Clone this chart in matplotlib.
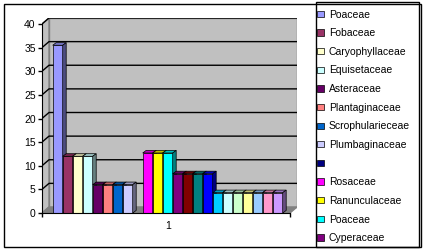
import matplotlib.pyplot as plt
from matplotlib.patches import Polygon, Rectangle, Patch
from matplotlib.colors import to_rgb

plt.rcParams['font.family'] = ['Liberation Sans', 'DejaVu Sans']

# series, all in the single category "1"
families = ['Poaceae', 'Fobaceae', 'Caryophyllaceae', 'Equisetaceae', 'Asteraceae',
            'Plantaginaceae', 'Scrophularieceae', 'Plumbaginaceae', '',
            'Rosaceae', 'Ranunculaceae', 'Poaceae', 'Cyperaceae',
            '', '', '', '', '', '', '', '', '', '']
counts = [35.5, 12, 12, 12, 6, 6, 6, 6, 0,
          12.7, 12.7, 12.7, 8.3, 8.3, 8.3, 8.3,
          4.3, 4.3, 4.3, 4.3, 4.3, 4.3, 4.3]
colors = ['#9999FF', '#993366', '#FFFFCC', '#CCFFFF', '#660066', '#FF8080', '#0066CC',
          '#CCCCFF', '#000080', '#FF00FF', '#FFFF00', '#00FFFF', '#800080', '#800000',
          '#008080', '#0000FF', '#00CCFF', '#CCFFFF', '#CCFFCC', '#FFFF99', '#99CCFF',
          '#FF99CC', '#CC99FF']
n_legend = 13
category = '1'
yticks = list(range(0, 41, 5))

W, H = 430, 252
fig = plt.figure(figsize=(W / 100, H / 100), dpi=100)


def fx(px):
    return px / W


def fy(py):
    return 1 - py / H


# outer chart border and legend frame
fig.add_artist(Rectangle((fx(4), fy(246.5)), fx(421) - fx(4), fy(4) - fy(246.5),
                         fill=False, edgecolor='black', lw=1, transform=fig.transFigure))
fig.add_artist(Rectangle((fx(315.5), fy(246.5)), fx(419) - fx(315.5), fy(2) - fy(246.5),
                         fill=False, edgecolor='black', lw=1, transform=fig.transFigure))

ax = fig.add_axes([fx(42), fy(213), fx(297) - fx(42), fy(18) - fy(213)])
x0, x1 = -1.57, 23.93
wdx, wdy = 0.7, 1.27     # depth of walls / floor
bdx, bdy = 0.35, 0.55    # depth of bars
ax.set_xlim(x0, x1)
ax.set_ylim(0, 40 + wdy)
ax.patch.set_visible(False)

gray = '#C0C0C0'
# back wall, left wall, floor
ax.add_patch(Rectangle((x0 + wdx, wdy), x1 - x0 - wdx, 40, facecolor=gray,
                       edgecolor='#808080', lw=1, zorder=0))
ax.add_patch(Polygon([(x0, 0), (x0 + wdx, wdy), (x0 + wdx, 40 + wdy), (x0, 40)],
                     facecolor=gray, edgecolor='#808080', lw=1, zorder=0))
ax.add_patch(Polygon([(x0, 0), (x1 - wdx, 0), (x1, wdy), (x0 + wdx, wdy)],
                     facecolor='#808080', edgecolor='#808080', lw=1, zorder=0))
for v in yticks[1:]:
    ax.plot([x0, x0 + wdx, x1], [v, v + wdy, v + wdy], color='black', lw=1, zorder=1)


def shade(c, k):
    r, g, b = to_rgb(c)
    return (r * k, g * k, b * k)


for i, (h, c) in enumerate(zip(counts, colors)):
    if h == 0:
        continue
    z = 2 + i * 0.01
    ax.bar(i, h, width=1, color=c, edgecolor='black', lw=0.5, zorder=z)
    ax.add_patch(Polygon([(i - 0.5, h), (i + 0.5, h), (i + 0.5 + bdx, h + bdy), (i - 0.5 + bdx, h + bdy)],
                         facecolor=shade(c, 0.75), edgecolor='black', lw=0.5, zorder=z))
    ax.add_patch(Polygon([(i + 0.5, 0), (i + 0.5 + bdx, bdy), (i + 0.5 + bdx, h + bdy), (i + 0.5, h)],
                         facecolor=shade(c, 0.5), edgecolor='black', lw=0.5, zorder=z))

for s in ['top', 'right']:
    ax.spines[s].set_visible(False)
ax.spines['left'].set_bounds(0, 40)
ax.spines['bottom'].set_bounds(x0, x1 - wdx)
ax.spines['left'].set_zorder(3)
ax.spines['bottom'].set_zorder(3)
ax.set_yticks(yticks)
ax.tick_params(axis='y', length=3, width=1, pad=1.5, labelsize=7.5)
ax.set_xticks([(len(counts) - 1) / 2])
ax.set_xticklabels([category])
ax.set_xticks([x0, x1 - wdx], minor=True)
ax.tick_params(axis='x', which='major', length=0, pad=6, labelsize=7.5)
ax.tick_params(axis='x', which='minor', length=3, width=1)

handles = [Patch(facecolor=c, edgecolor='black', lw=0.5) for c in colors[:n_legend]]
fig.legend(handles, families[:n_legend], loc='upper left', bbox_to_anchor=(fx(317), fy(9.5)),
           frameon=False, fontsize=7.5, handlelength=0.65, handleheight=0.55,
           handletextpad=0.5, labelspacing=0.83, borderaxespad=0, borderpad=0)

fig.savefig('out.png', dpi=100)
